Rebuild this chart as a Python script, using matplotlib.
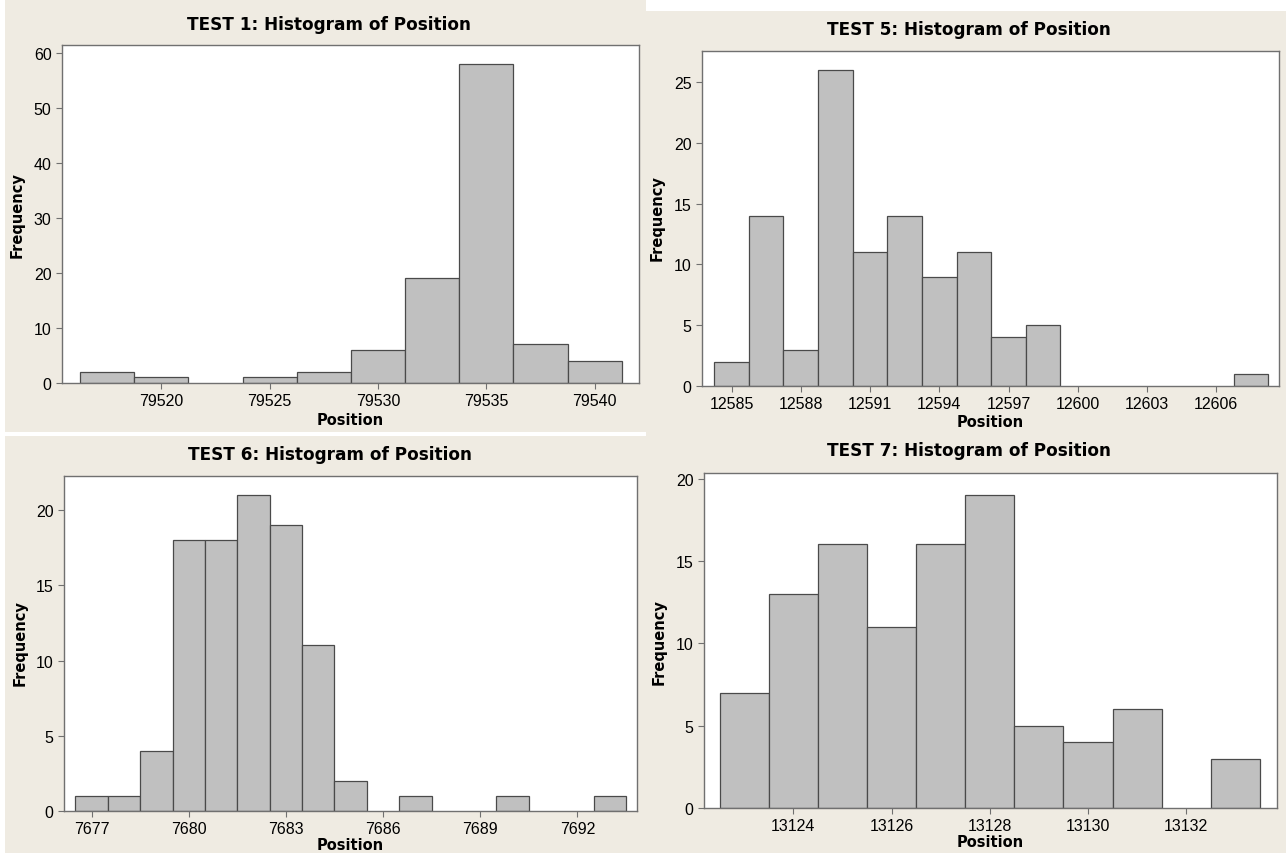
import matplotlib
matplotlib.use("Agg")
import matplotlib.pyplot as plt
from matplotlib.patches import Rectangle
from matplotlib.ticker import FormatStrFormatter

W, H = 1286, 854

# bin centres and counts
test1_centers = [79517.5, 79520, 79522.5, 79525, 79527.5, 79530, 79532.5, 79535, 79537.5, 79540]
test1_counts = [2, 1, 0, 1, 2, 6, 19, 58, 7, 4]

test5_centers = [12585, 12586.5, 12588, 12589.5, 12591, 12592.5, 12594, 12595.5,
                 12597, 12598.5, 12600, 12601.5, 12603, 12604.5, 12606, 12607.5]
test5_counts = [2, 14, 3, 26, 11, 14, 9, 11, 4, 5, 0, 0, 0, 0, 0, 1]

test6_centers = [7677, 7678, 7679, 7680, 7681, 7682, 7683, 7684, 7685,
                 7686, 7687, 7688, 7689, 7690, 7691, 7692, 7693]
test6_counts = [1, 1, 4, 18, 18, 21, 19, 11, 2, 0, 1, 0, 0, 1, 0, 0, 1]

test7_centers = [13123, 13124, 13125, 13126, 13127, 13128, 13129, 13130, 13131, 13132, 13133]
test7_counts = [7, 13, 16, 11, 16, 19, 5, 4, 6, 0, 3]

titles = ["TEST 1: Histogram of Position", "TEST 5: Histogram of Position",
          "TEST 6: Histogram of Position", "TEST 7: Histogram of Position"]

BEIGE = "#efebe2"
BAR = "#c0c0c0"
EDGE = "#4a4a4a"
FRAME = "#707070"

fig = plt.figure(figsize=(W / 100, H / 100), dpi=100)
fig.patch.set_facecolor("white")


def fx(x):
    return x / W


def fy(y):
    return 1 - y / H


# beige panel backgrounds (left column split by a white line)
for x0, y0, x1, y1 in [(5, 0, 646, 433), (5, 437, 646, 854), (646, 12, 1286, 854)]:
    fig.patches.append(Rectangle((fx(x0), fy(y1)), fx(x1) - fx(x0), fy(y0) - fy(y1),
                                 transform=fig.transFigure, facecolor=BEIGE,
                                 edgecolor="none", zorder=-5))


def panel(box, centers, counts, width, xlim, ylim, xticks, yticks, title, title_xy, pos_xy, freq_xy):
    left, top, right, bottom = box
    ax = fig.add_axes([fx(left), fy(bottom), fx(right) - fx(left), fy(top) - fy(bottom)])
    ax.set_zorder(2)
    ax.set_facecolor("white")
    xs = [c for c, n in zip(centers, counts) if n > 0]
    ns = [n for n in counts if n > 0]
    ax.bar(xs, ns, width=width, color=BAR, edgecolor=EDGE, linewidth=0.9)
    ax.set_xlim(*xlim)
    ax.set_ylim(*ylim)
    ax.set_xticks(xticks)
    ax.set_yticks(yticks)
    ax.xaxis.set_major_formatter(FormatStrFormatter("%d"))
    ax.yaxis.set_major_formatter(FormatStrFormatter("%d"))
    for s in ax.spines.values():
        s.set_color(FRAME)
        s.set_linewidth(1.0)
    ax.tick_params(direction="out", length=4, width=0.8, color=FRAME, pad=3.5,
                   labelsize=11.5, labelcolor="black")
    for lab in ax.get_xticklabels() + ax.get_yticklabels():
        lab.set_family("Liberation Sans")
    fig.text(fx(title_xy[0]), fy(title_xy[1]), title, ha="center", va="center",
             fontsize=12.2, fontweight="bold")
    fig.text(fx(pos_xy[0]), fy(pos_xy[1]), "Position", ha="center", va="center",
             fontsize=10.5, fontweight="bold")
    fig.text(fx(freq_xy[0]), fy(freq_xy[1]), "Frequency", ha="center", va="center",
             fontsize=10.5, fontweight="bold", rotation=90)
    return ax


panel((62, 46, 639, 384), test1_centers, test1_counts, 2.5,
      (79515.41, 79542.05), (0, 61.4), range(79520, 79541, 5), range(0, 61, 10),
      titles[0], (329, 25), (350, 421), (17, 215))

panel((702, 52, 1279, 387), test5_centers, test5_counts, 1.5,
      (12583.72, 12608.72), (0, 27.55), range(12585, 12607, 3), range(0, 26, 5),
      titles[1], (969, 30), (990, 423), (657, 218))

panel((64, 477, 637, 812), test6_centers, test6_counts, 1.0,
      (7676.15, 7693.84), (0, 22.26), range(7677, 7693, 3), range(0, 21, 5),
      titles[2], (330, 455), (350, 846), (20, 643))

panel((704, 474, 1277, 809), test7_centers, test7_counts, 1.0,
      (13122.18, 13133.85), (0, 20.34), range(13124, 13133, 2), range(0, 21, 5),
      titles[3], (969, 451), (990, 843), (659, 642))

fig.savefig("out.png", dpi=100, facecolor=fig.get_facecolor())
